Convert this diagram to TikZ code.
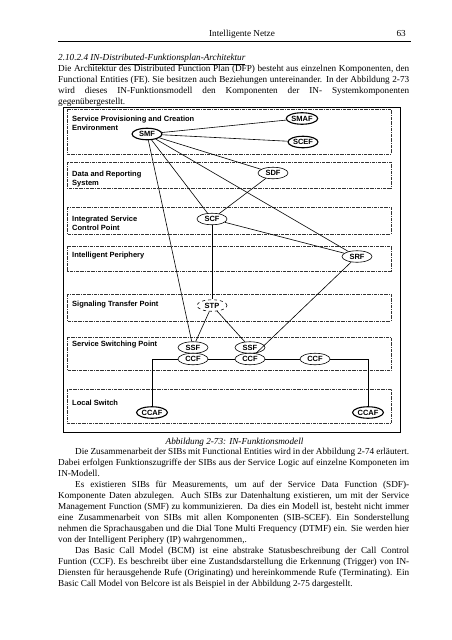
\documentclass[tikz,border=0pt]{standalone}
\usepackage{fontspec}
\setmainfont{Liberation Serif}
\newfontfamily\arial{Liberation Sans}
\usetikzlibrary{shapes.geometric,positioning}
\newcommand{\blocksatz}[1]{\makebox[351pt][s]{#1}}

\begin{document}
\begin{tikzpicture}[x=1pt, y=-1pt,
    fe/.style = {ellipse, draw, fill=white, line width=0.6pt, inner sep=0.5pt,
                 minimum width=30pt, minimum height=11.5pt,
                 font=\arial\bfseries\fontsize{7.5}{9}\selectfont},
    fe dick/.style = {fe, line width=1.1pt},
    ebene/.style = {draw=black!80, line width=0.5pt,
                    dash pattern=on 3pt off 1pt on 0.6pt off 1pt},
    ebenentext/.style = {anchor=base west, inner sep=0pt, align=left,
                         font=\arial\bfseries\fontsize{7.5}{9}\selectfont},
    zeile/.style = {anchor=base west, inner sep=0pt, font=\fontsize{9.2}{11}\selectfont},
    kursiv/.style = {zeile, font=\fontsize{9.2}{11}\selectfont\itshape},
    verbindung/.style = {line width=0.6pt}]
  \path[use as bounding box, fill=white] (0,0) rectangle (452,640);

  % Kopfzeile
  \node[zeile, anchor=base] (kopf) at (242,36.5) {Intelligente Netze};
  \node[zeile, anchor=base east] (seite) at (406,36.5) {63};
  \draw[line width=0.8pt] (58,41) -- (411,41);

  % Text oben
  \node[kursiv] (abschnitt) at (58,60.5) {2.10.2.4 \underline{IN-Distributed-Funktionsplan-Architektur}};
  \node[zeile] (t1) at (58,71.5) {\blocksatz{Die Architektur des Distributed Function Plan (DFP) besteht aus einzelnen Komponenten, den}};
  \node[zeile] (t2) at (58,82.5) {\blocksatz{Functional Entities (FE). Sie besitzen auch Beziehungen untereinander. In der Abbildung 2-73}};
  \node[zeile] (t3) at (58,93.5) {\blocksatz{wird dieses IN-Funktionsmodell den Komponenten der IN- Systemkomponenten}};
  \node[zeile] (t4) at (58,104.5) {gegenübergestellt.};

  % Rahmen und Ebenen
  \draw[line width=0.8pt] (63,107) rectangle (400,432);
  \draw[ebene] (67,109) rectangle (391,154);
  \draw[ebene] (67,162) rectangle (391,188);
  \draw[ebene] (67,207) rectangle (391,234);
  \draw[ebene] (67,246) rectangle (391,271);
  \draw[ebene] (67,294) rectangle (391,321);
  \draw[ebene] (67,337) rectangle (391,370);
  \draw[ebene] (67,389) rectangle (391,423);

  % zweizeilig: base = letzte Zeile
  \node[ebenentext] (spce) at (72,130) {Service Provisioning and Creation\\Environment};
  \node[ebenentext] (drs) at (72,185) {Data and Reporting\\System};
  \node[ebenentext] (iscp) at (72,230) {Integrated Service\\Control Point};
  \node[ebenentext] (ip) at (72,257) {Intelligent Periphery};
  \node[ebenentext] (stpl) at (72,306) {Signaling Transfer Point};
  \node[ebenentext] (ssp) at (72,346) {Service Switching Point};
  \node[ebenentext] (ls) at (72,405) {Local Switch};

  % Functional Entities
  \node[fe dick] (smf) at (147,134) {SMF};
  \node[fe dick] (smaf) at (302,118.5) {SMAF};
  \node[fe dick] (scef) at (303,142) {SCEF};
  \node[fe] (sdf) at (273,173) {SDF};
  \node[fe] (scf) at (212,219) {SCF};
  \node[fe] (srf) at (357,256.5) {SRF};
  \node[fe, dashed] (stp) at (212,305.5) {STP};
  \node[fe] (ssf1) at (193,347.5) {SSF};
  \node[fe] (ccf1) [below of = ssf1, node distance = 11.5pt] {CCF};
  \node[fe] (ssf2) at (250,347.5) {SSF};
  \node[fe] (ccf2) [below of = ssf2, node distance = 11.5pt] {CCF};
  \node[fe] (ccf3) at (315,359) {CCF};
  \node[fe dick] (ccaf1) at (152,412.5) {CCAF};
  \node[fe dick] (ccaf2) at (368,412.5) {CCAF};

  \path[verbindung] (smf) edge (smaf);
  \path[verbindung] (smf) edge (scef);
  \path[verbindung] (smf) edge (sdf);
  \path[verbindung] (smf) edge (scf);
  \path[verbindung] (smf) edge (srf);
  \path[verbindung] (smf) edge (ssf1);
  \path[verbindung] (sdf) edge (scf);
  \path[verbindung] (scf) edge (srf);
  \path[verbindung] (scf) edge (stp);
  \path[verbindung] (stp) edge (ssf1);
  \path[verbindung] (stp) edge (ssf2);
  \path[verbindung] (srf) edge (ccf2);
  \path[verbindung] (ccf1) edge (ccf2);
  \path[verbindung] (ccf2) edge (ccf3);
  \draw[verbindung] (ccf1.west) -| (ccaf1.north);
  \draw[verbindung] (ccf3.east) -| (ccaf2.north);

  % Text unten
  \node[kursiv, anchor=base] (unterschrift) at (234.5,444.5) {Abbildung 2-73: IN-Funktionsmodell};
  \node[zeile] (u1) at (75,454.5) {\makebox[334pt][s]{Die Zusammenarbeit der SIBs mit Functional Entities wird in der Abbildung 2-74 erläutert.}};
  \node[zeile] (u2) at (58,465.5) {\blocksatz{Dabei erfolgen Funktionszugriffe der SIBs aus der Service Logic auf einzelne Komponeten im}};
  \node[zeile] (u3) at (58,476.5) {IN-Modell.};
  \node[zeile] (u4) at (75,487.5) {\makebox[334pt][s]{Es existieren SIBs für Measurements, um auf der Service Data Function (SDF)-}};
  \node[zeile] (u5) at (58,498.5) {\blocksatz{Komponente Daten abzulegen. Auch SIBs zur Datenhaltung existieren, um mit der Service}};
  \node[zeile] (u6) at (58,509.5) {\blocksatz{Management Function (SMF) zu kommunizieren. Da dies ein Modell ist, besteht nicht immer}};
  \node[zeile] (u7) at (58,520.5) {\blocksatz{eine Zusammenarbeit von SIBs mit allen Komponenten (SIB-SCEF). Ein Sonderstellung}};
  \node[zeile] (u8) at (58,531.5) {\blocksatz{nehmen die Sprachausgaben und die Dial Tone Multi Frequency (DTMF) ein. Sie werden hier}};
  \node[zeile] (u9) at (58,542.5) {von der Intelligent Periphery (IP) wahrgenommen,.};
  \node[zeile] (u10) at (75,553.5) {\makebox[334pt][s]{Das Basic Call Model (BCM) ist eine abstrake Statusbeschreibung der Call Control}};
  \node[zeile] (u11) at (58,564.5) {\blocksatz{Funtion (CCF). Es beschreibt über eine Zustandsdarstellung die Erkennung (Trigger) von IN-}};
  \node[zeile] (u12) at (58,575.5) {\blocksatz{Diensten für herausgehende Rufe (Originating) und hereinkommende Rufe (Terminating). Ein}};
  \node[zeile] (u13) at (58,586.5) {Basic Call Model von Belcore ist als Beispiel in der Abbildung 2-75 dargestellt.};
\end{tikzpicture}
\end{document}
